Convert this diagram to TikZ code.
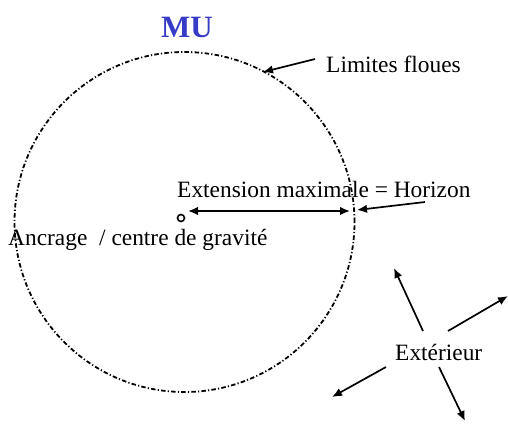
\documentclass[tikz,border=0pt]{standalone}
\usepackage{fontspec}
\setmainfont{Liberation Serif}
\usepackage{xcolor}
\usetikzlibrary{calc, arrows.meta, positioning}

\definecolor{mublue}{RGB}{55,60,200}
\tikzset{
  texte/.style={font=\fontsize{23.4}{27}\selectfont, inner sep=0pt},
  flou/.style={line width=1.8pt, dash pattern=on 4.5pt off 2.2pt on 1.2pt off 2.2pt},
  fleche/.style={->, line width=1.7pt}
}

\begin{document}
\begin{tikzpicture}[>={Latex[length=10pt,width=8.5pt]}, x=1pt, y=-1pt]
    \useasboundingbox (0,0) rectangle (508,423);

    % 1. Le cercle aux limites floues (MU)
    \coordinate (c) at (184.5,222);
    \draw[flou] (c) circle[radius=170pt];
    \node[font=\fontsize{31}{34}\selectfont\bfseries, text=mublue, anchor=base, inner sep=0pt] (mu) at (187,37) {MU};

    % 2. Limites floues
    \node[texte, anchor=base west] (lim) at (326,72) {Limites floues};
    \coordinate (limA) at (315,59);
    \coordinate (limB) at (263,72);
    \draw[fleche] (limA) -- (limB);

    % 3. Ancrage et extension maximale
    \node[draw, circle, line width=1.6pt, minimum size=7pt, inner sep=0pt] (anc) at (181,218) {};
    \node[texte, anchor=base west] (ancr) at (8,245) {Ancrage~ / centre de gravité};
    \node[texte, anchor=base west] (ext) at (177,197) {Extension maximale = Horizon};
    \coordinate (dl) at (188,211);
    \coordinate (dr) at (350,211);
    \draw[fleche, <->] (dl) -- (dr);
    \coordinate (hzA) at (425,202);
    \coordinate (hzB) at (357,210);
    \draw[fleche] (hzA) -- (hzB);

    % 4. Extérieur
    \node[texte, anchor=base west] (exter) at (395,360) {Extérieur};
    \coordinate (e1) at (423,331); \coordinate (f1) at (394,268);
    \coordinate (e2) at (448,331); \coordinate (f2) at (508,296);
    \coordinate (e3) at (386,367); \coordinate (f3) at (332,397);
    \coordinate (e4) at (439,367); \coordinate (f4) at (465,421);
    \foreach \i in {1,...,4} {
        \draw[fleche] (e\i) -- (f\i);
    }

\end{tikzpicture}
\end{document}
